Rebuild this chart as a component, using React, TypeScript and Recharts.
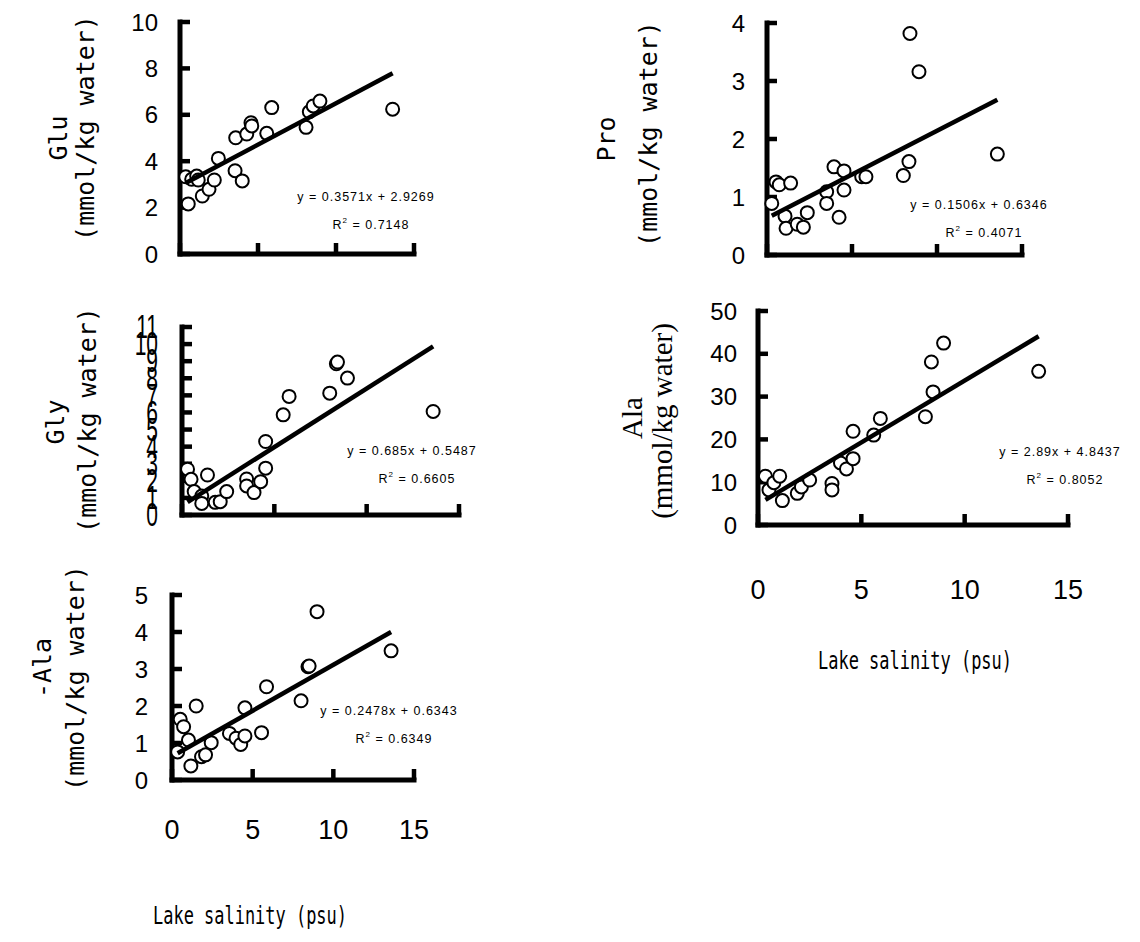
import { ScatterChart, Scatter, XAxis, YAxis } from 'recharts';

type Pt = { x: number; y: number };
type Fit = { slope: number; intercept: number; r2: string };
type Rect = { left: number; top: number; right: number; bottom: number };

// lake salinity axis (psu), shared by every panel
const salinityTicks = [0, 5, 10, 15];

// Glu
const gluData: Pt[] = [
  { x: 0.53, y: 2.16 }, { x: 0.37, y: 3.33 }, { x: 0.75, y: 3.22 }, { x: 1.07, y: 3.36 },
  { x: 1.17, y: 3.19 }, { x: 1.43, y: 2.5 }, { x: 1.86, y: 2.79 }, { x: 2.2, y: 3.19 },
  { x: 2.46, y: 4.12 }, { x: 3.53, y: 3.59 }, { x: 3.99, y: 3.15 }, { x: 3.57, y: 5.01 },
  { x: 4.28, y: 5.17 }, { x: 4.55, y: 5.66 }, { x: 4.6, y: 5.52 }, { x: 5.56, y: 5.2 },
  { x: 5.88, y: 6.31 }, { x: 8.08, y: 5.46 }, { x: 8.29, y: 6.13 }, { x: 8.54, y: 6.38 },
  { x: 8.97, y: 6.59 }, { x: 13.63, y: 6.24 },
];
const gluTicks = [0, 2, 4, 6, 8, 10];
const gluFit: Fit = { slope: 0.3571, intercept: 2.9269, r2: '0.7148' };

// Pro
const proData: Pt[] = [
  { x: 0.28, y: 0.89 }, { x: 0.53, y: 1.26 }, { x: 0.72, y: 1.21 }, { x: 1.06, y: 0.67 },
  { x: 1.12, y: 0.46 }, { x: 1.39, y: 1.24 }, { x: 1.78, y: 0.53 }, { x: 2.14, y: 0.48 },
  { x: 2.37, y: 0.73 }, { x: 3.51, y: 1.09 }, { x: 3.51, y: 0.89 }, { x: 3.94, y: 1.52 },
  { x: 4.24, y: 0.65 }, { x: 4.53, y: 1.45 }, { x: 4.53, y: 1.12 }, { x: 5.57, y: 1.35 },
  { x: 5.82, y: 1.35 }, { x: 8.02, y: 1.37 }, { x: 8.35, y: 1.61 }, { x: 8.41, y: 3.82 },
  { x: 8.94, y: 3.16 }, { x: 13.55, y: 1.74 },
];
const proTicks = [0, 1, 2, 3, 4];
const proFit: Fit = { slope: 0.1506, intercept: 0.6346, r2: '0.4071' };

// Gly
const glyData: Pt[] = [
  { x: 0.3, y: 2.68 }, { x: 0.49, y: 2.09 }, { x: 0.66, y: 1.37 }, { x: 1.07, y: 1.11 },
  { x: 1.07, y: 0.68 }, { x: 1.38, y: 2.34 }, { x: 1.8, y: 0.74 }, { x: 2.07, y: 0.78 },
  { x: 2.42, y: 1.37 }, { x: 3.5, y: 2.11 }, { x: 3.5, y: 1.7 }, { x: 3.9, y: 1.31 },
  { x: 4.26, y: 1.95 }, { x: 4.53, y: 2.74 }, { x: 4.53, y: 4.3 }, { x: 5.48, y: 5.86 },
  { x: 5.8, y: 6.94 }, { x: 8.0, y: 7.13 }, { x: 8.36, y: 8.85 }, { x: 8.42, y: 8.95 },
  { x: 8.96, y: 8.01 }, { x: 13.6, y: 6.06 },
];
const glyTicks = [0, 1, 2, 3, 4, 5, 6, 7, 8, 9, 10, 11];
const glyFit: Fit = { slope: 0.685, intercept: 0.5487, r2: '0.6605' };

// Ala
const alaData: Pt[] = [
  { x: 0.36, y: 11.4 }, { x: 0.53, y: 8.2 }, { x: 0.77, y: 9.9 }, { x: 1.05, y: 11.4 },
  { x: 1.18, y: 5.7 }, { x: 1.9, y: 7.4 }, { x: 2.1, y: 8.9 }, { x: 2.5, y: 10.5 },
  { x: 3.58, y: 9.7 }, { x: 3.58, y: 8.2 }, { x: 3.99, y: 14.5 }, { x: 4.28, y: 13.1 },
  { x: 4.6, y: 15.5 }, { x: 4.6, y: 21.9 }, { x: 5.6, y: 21.0 }, { x: 5.92, y: 24.9 },
  { x: 8.1, y: 25.3 }, { x: 8.39, y: 38.1 }, { x: 8.47, y: 31.1 }, { x: 8.98, y: 42.5 },
  { x: 13.58, y: 35.9 },
];
const alaTicks = [0, 10, 20, 30, 40, 50];
const alaFit: Fit = { slope: 2.89, intercept: 4.8437, r2: '0.8052' };

// -Ala
const bAlaData: Pt[] = [
  { x: 0.35, y: 0.76 }, { x: 0.51, y: 1.64 }, { x: 0.72, y: 1.44 }, { x: 1.02, y: 1.08 },
  { x: 1.5, y: 2.0 }, { x: 1.17, y: 0.38 }, { x: 1.83, y: 0.63 }, { x: 2.08, y: 0.68 },
  { x: 2.43, y: 1.01 }, { x: 3.56, y: 1.26 }, { x: 3.97, y: 1.13 }, { x: 4.26, y: 0.96 },
  { x: 4.52, y: 1.19 }, { x: 4.52, y: 1.95 }, { x: 5.55, y: 1.28 }, { x: 5.86, y: 2.52 },
  { x: 8.0, y: 2.14 }, { x: 8.43, y: 3.06 }, { x: 8.5, y: 3.08 }, { x: 8.99, y: 4.55 },
  { x: 13.58, y: 3.49 },
];
const bAlaTicks = [0, 1, 2, 3, 4, 5];
const bAlaFit: Fit = { slope: 0.2478, intercept: 0.6343, r2: '0.6349' };

const SANS = '"Liberation Sans", Arial, sans-serif';
const MONO = '"DejaVu Sans Mono", monospace';
const SERIF = '"Liberation Serif", "Times New Roman", serif';

const PAD_L = 80;
const PAD_T = 30;
const PAD_R = 25;
const PAD_B = 90;
const Y_W = 60;
const X_H = 30;

// tick marks point into the plot, so the tick size is negative
const Y_STUB = 10;
const X_STUB = 11;

const AXIS_LINE = { stroke: '#000', strokeWidth: 5, strokeLinecap: 'square' as const };
const TICK_LINE = { stroke: '#000', strokeWidth: 4.5 };

function Ring(props: any) {
  return <circle cx={props.cx} cy={props.cy} r={6.5} fill="#fff" stroke="#000" strokeWidth={2} />;
}

function NoMark() {
  return <g />;
}

function YTick({ x, y, payload, tall }: any) {
  return (
    <text
      transform={`translate(${x},${y}) scale(1,${tall ? 1.55 : 1})`}
      textAnchor="end"
      dominantBaseline="central"
      fontFamily={SANS}
      fontSize={tall ? 21 : 24}
      fill="#000"
    >
      {payload.value}
    </text>
  );
}

function XTick({ x, y, payload, showLabel }: any) {
  if (!showLabel) return <g />;
  return (
    <text x={x} y={y} textAnchor="middle" dominantBaseline="central" fontFamily={SANS} fontSize={27} fill="#000">
      {payload.value}
    </text>
  );
}

interface PanelSpec {
  data: Pt[];
  yTicks: number[];
  fit: Fit;
  plot: Rect;
  gap: number;
  tall?: boolean;
  xLabelOffset?: number;
}

function Panel({ spec }: { spec: PanelSpec }) {
  const { plot } = spec;
  const width = plot.right - plot.left + PAD_L + PAD_R;
  const height = plot.bottom - plot.top + PAD_T + PAD_B;
  const xs = spec.data.map((d) => d.x);
  const fitLine = [Math.min(...xs), Math.max(...xs)].map((x) => ({
    x,
    y: spec.fit.slope * x + spec.fit.intercept,
  }));
  const yMax = spec.yTicks[spec.yTicks.length - 1];
  const showX = spec.xLabelOffset !== undefined;

  return (
    <div style={{ position: 'absolute', left: plot.left - PAD_L, top: plot.top - PAD_T, width, height }}>
      <ScatterChart
        width={width}
        height={height}
        margin={{ top: PAD_T, right: PAD_R, bottom: PAD_B - X_H, left: PAD_L - Y_W }}
      >
        <XAxis
          type="number"
          dataKey="x"
          domain={[0, 15]}
          ticks={salinityTicks}
          interval={0}
          height={X_H}
          axisLine={AXIS_LINE}
          tickLine={TICK_LINE}
          tickSize={-X_STUB}
          tickMargin={(spec.xLabelOffset ?? 0) + X_STUB}
          tick={(p: any) => <XTick {...p} showLabel={showX} />}
        />
        <YAxis
          type="number"
          dataKey="y"
          domain={[0, yMax]}
          ticks={spec.yTicks}
          interval={0}
          width={Y_W}
          axisLine={AXIS_LINE}
          tickLine={TICK_LINE}
          tickSize={-Y_STUB}
          tickMargin={spec.gap + Y_STUB}
          tick={(p: any) => <YTick {...p} tall={spec.tall} />}
        />
        <Scatter data={spec.data} shape={Ring} isAnimationActive={false} />
        <Scatter
          data={fitLine}
          shape={NoMark}
          line={{ stroke: '#000', strokeWidth: 4.5 }}
          isAnimationActive={false}
        />
      </ScatterChart>
    </div>
  );
}

function VLabel({ x, y, text, font, size }: { x: number; y: number; text: string; font: string; size: number }) {
  return (
    <text
      transform={`translate(${x},${y}) rotate(-90)`}
      textAnchor="middle"
      dominantBaseline="central"
      fontFamily={font}
      fontSize={size}
      fill="#000"
    >
      {text}
    </text>
  );
}

function FitNote({ x, y, fit }: { x: number; y: number; fit: Fit }) {
  return (
    <g fontFamily={SANS} fontSize={12.5} letterSpacing={1} textAnchor="middle" fill="#000">
      <text x={x} y={y} dominantBaseline="central">{`y = ${fit.slope}x + ${fit.intercept}`}</text>
      <text x={x + 5} y={y + 28} dominantBaseline="central">
        R<tspan dy={-5} fontSize={8}>2</tspan>
        <tspan dy={5}>{` = ${fit.r2}`}</tspan>
      </text>
    </g>
  );
}

function SalinityTitle({ x, y }: { x: number; y: number }) {
  return (
    <text x={x} y={y} textAnchor="middle" dominantBaseline="central" fontFamily={MONO} fontSize={25}
      textLength={194} lengthAdjust="spacingAndGlyphs" fill="#000">
      Lake salinity (psu)
    </text>
  );
}

const UNIT = '(mmol/kg water)';

export default function App() {
  const panels: PanelSpec[] = [
    { data: gluData, yTicks: gluTicks, fit: gluFit, plot: { left: 180, top: 22, right: 414, bottom: 254 }, gap: 22 },
    { data: proData, yTicks: proTicks, fit: proFit, plot: { left: 767, top: 23, right: 1022, bottom: 255 }, gap: 22 },
    { data: glyData, yTicks: glyTicks, fit: glyFit, plot: { left: 182, top: 327, right: 459, bottom: 515 }, gap: 24, tall: true },
    { data: alaData, yTicks: alaTicks, fit: alaFit, plot: { left: 758, top: 311, right: 1068, bottom: 525 }, gap: 21, xLabelOffset: 65 },
    { data: bAlaData, yTicks: bAlaTicks, fit: bAlaFit, plot: { left: 172, top: 595, right: 414, bottom: 780 }, gap: 24, xLabelOffset: 50 },
  ];

  return (
    <div style={{ position: 'absolute', left: 0, top: 0, width: 1140, height: 942, background: '#fff' }}>
      {panels.map((p, i) => (
        <Panel key={i} spec={p} />
      ))}
      <svg width={1140} height={942} style={{ position: 'absolute', left: 0, top: 0, pointerEvents: 'none' }}>
        <VLabel x={58} y={138} text="Glu" font={MONO} size={25} />
        <VLabel x={85} y={128} text={UNIT} font={MONO} size={25} />
        <VLabel x={606} y={139} text="Pro" font={MONO} size={25} />
        <VLabel x={648} y={134} text={UNIT} font={MONO} size={25} />
        <VLabel x={55} y={422} text="Gly" font={MONO} size={25} />
        <VLabel x={87} y={420} text={UNIT} font={MONO} size={25} />
        <VLabel x={632} y={418} text="Ala" font={SERIF} size={29} />
        <VLabel x={662} y={421} text={UNIT} font={SERIF} size={29} />
        <VLabel x={42} y={668} text="-Ala" font={MONO} size={25} />
        <VLabel x={75} y={678} text={UNIT} font={MONO} size={25} />

        <FitNote x={366} y={197} fit={gluFit} />
        <FitNote x={979} y={205} fit={proFit} />
        <FitNote x={412} y={451} fit={glyFit} />
        <FitNote x={1060} y={452} fit={alaFit} />
        <FitNote x={389} y={711} fit={bAlaFit} />

        <SalinityTitle x={915} y={660} />
        <SalinityTitle x={250} y={915} />
      </svg>
    </div>
  );
}
